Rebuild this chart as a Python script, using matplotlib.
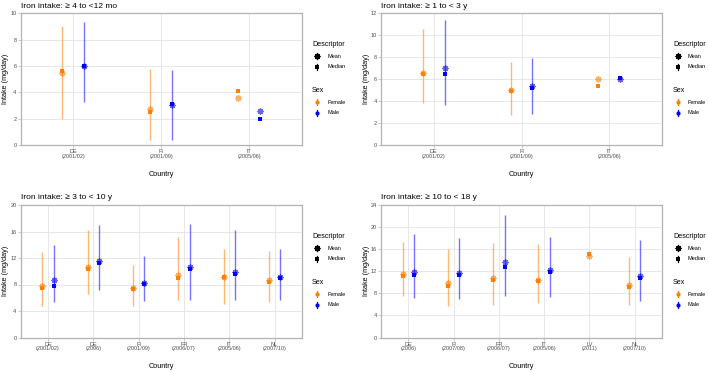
import numpy as np
import matplotlib
matplotlib.use("Agg")
import matplotlib.pyplot as plt
from matplotlib.lines import Line2D

plt.rcParams['font.family'] = ['Liberation Sans', 'DejaVu Sans']

nan = np.nan

# ---------------- data ----------------
titles = ["Iron intake: \u2265 4 to <12 mo", "Iron intake: \u2265 1 to < 3 y",
          "Iron intake: \u2265 3 to < 10 y", "Iron intake: \u2265 10 to < 18 y"]

cats1 = ["DE\n(2001/02)", "FI\n(2001/09)", "IT\n(2005/06)"]
f_mean1 = [5.45, 2.75, 3.55]
f_med1 = [5.65, 2.5, 4.1]
f_lo1 = [2.0, 0.4, nan]
f_hi1 = [9.0, 5.75, nan]
m_mean1 = [6.0, 3.0, 2.6]
m_med1 = [6.0, 3.15, 1.95]
m_lo1 = [3.25, 0.4, nan]
m_hi1 = [9.35, 5.7, nan]

cats2 = ["DE\n(2001/02)", "FI\n(2001/09)", "IT\n(2005/06)"]
f_mean2 = [6.6, 5.0, 6.0]
f_med2 = [6.45, 4.95, 5.35]
f_lo2 = [3.8, 2.7, nan]
f_hi2 = [10.6, 7.6, nan]
m_mean2 = [7.0, 5.4, 6.05]
m_med2 = [6.5, 5.2, 6.1]
m_lo2 = [3.6, 2.8, nan]
m_hi2 = [11.4, 7.95, nan]

cats3 = ["DE\n(2001/02)", "DE\n(2006)", "FI\n(2001/09)", "FR\n(2006/07)", "IT\n(2005/06)", "NL\n(2007/10)"]
f_mean3 = [7.7, 10.6, 7.5, 9.5, 9.1, 8.7]
f_med3 = [7.5, 10.4, 7.3, 9.0, 9.1, 8.4]
f_lo3 = [4.7, 6.5, 4.7, 5.7, 5.1, 5.4]
f_hi3 = [12.9, 16.2, 11.0, 15.1, 13.4, 13.1]
m_mean3 = [8.7, 11.5, 8.3, 10.6, 9.9, 9.2]
m_med3 = [7.7, 11.2, 8.1, 10.3, 9.6, 9.0]
m_lo3 = [5.3, 7.2, 5.5, 5.7, 5.6, 5.6]
m_hi3 = [14.0, 17.0, 12.3, 17.2, 16.2, 13.3]

cats4 = ["DE\n(2006)", "FI\n(2007/08)", "FR\n(2006/07)", "IT\n(2005/06)", "LV\n(2011)", "NL\n(2007/10)"]
f_mean4 = [11.5, 9.8, 10.8, 10.5, 14.7, 9.6]
f_med4 = [11.2, 9.4, 10.4, 10.3, 15.2, 9.2]
f_lo4 = [7.5, 5.7, 5.9, 6.2, nan, 5.9]
f_hi4 = [17.3, 16.0, 17.2, 16.9, nan, 14.6]
m_mean4 = [11.8, 11.6, 13.6, 12.3, nan, 11.1]
m_med4 = [11.3, 11.4, 12.8, 11.8, nan, 10.8]
m_lo4 = [7.2, 6.9, 7.5, 7.4, nan, 6.6]
m_hi4 = [18.7, 18.1, 22.1, 18.2, nan, 17.6]

y_max = [10, 12, 20, 24]
y_step = [2, 2, 4, 4]

ORANGE = "#FF7F00"
BLUE = "#0000FF"

W, H = 709, 370
fig = plt.figure(figsize=(W / 100, H / 100), dpi=100)


def px_axes(x0, y0, x1, y1):
    return fig.add_axes([x0 / W, 1 - y1 / H, (x1 - x0) / W, (y1 - y0) / H])


panel_data = [
    (cats1, (f_mean1, f_med1, f_lo1, f_hi1), (m_mean1, m_med1, m_lo1, m_hi1)),
    (cats2, (f_mean2, f_med2, f_lo2, f_hi2), (m_mean2, m_med2, m_lo2, m_hi2)),
    (cats3, (f_mean3, f_med3, f_lo3, f_hi3), (m_mean3, m_med3, m_lo3, m_hi3)),
    (cats4, (f_mean4, f_med4, f_lo4, f_hi4), (m_mean4, m_med4, m_lo4, m_hi4)),
]
boxes = [(20.7, 13.3, 301.7, 145), (381, 13.3, 662, 145),
         (20.7, 205, 301.7, 337.5), (381, 205, 662, 337.5)]
legend_x = [(312, 317, 327), (673, 678, 688), (312, 317, 327), (673, 678, 688)]
legend_y0 = [44, 44, 236, 236]

ASTER = (8, 2, 0)

for i, (cats, fem, mal) in enumerate(panel_data):
    ax = px_axes(*boxes[i])
    n = len(cats)
    x = np.arange(n)
    fm = np.array(fem[0], dtype=float)
    mm = np.array(mal[0], dtype=float)
    for vals, other, color, sign in [(fem, mm, ORANGE, -1), (mal, fm, BLUE, 1)]:
        mean, med, lo, hi = [np.array(v, dtype=float) for v in vals]
        offs = np.where(np.isnan(other), 0.0, sign * 0.125)
        xs = x + offs
        ok = ~np.isnan(lo)
        ax.vlines(xs[ok], lo[ok], hi[ok], color=color, alpha=0.55, lw=1.0, zorder=2)
        ax.plot(xs, med, ls='', marker='s', ms=2.8, color=color, mew=0, zorder=3)
        ax.plot(xs, mean, ls='', marker=ASTER, ms=4.4, mew=0.9, color=color,
                alpha=0.6, zorder=4)

    ax.set_xlim(-0.6, n - 0.4)
    ax.set_ylim(0, y_max[i])
    ax.set_yticks(np.arange(0, y_max[i] + 0.1, y_step[i]))
    ax.set_xticks(x)
    ax.set_xticklabels(cats, linespacing=0.95)
    ax.grid(True, color="#E3E3E3", lw=0.6, zorder=0)
    ax.set_axisbelow(True)
    for s in ax.spines.values():
        s.set_color("#B3B3B3")
        s.set_linewidth(0.9)
    ax.tick_params(axis='both', length=2, width=0.5, color="#B3B3B3",
                   labelsize=4, labelcolor="#4D4D4D", pad=1)
    ax.set_xlabel("Country", fontsize=5.2)
    ax.xaxis.set_label_coords(0.5, -0.196)
    ax.set_ylabel("Intake (mg/day)", fontsize=5.2)
    ax.yaxis.set_label_coords(-0.040, 0.5)
    ax.text(0.0, 1.055, titles[i], transform=ax.transAxes, ha='left', va='center',
            fontsize=6.0)

    # legend (drawn manually at ggplot positions)
    tx, kx, lx = legend_x[i]
    y0 = legend_y0[i]

    def fx(v):
        return v / W

    def fy(v):
        return 1 - v / H

    fig.text(fx(tx), fy(y0), "Descriptor", fontsize=5.1, va='center', ha='left')
    fig.text(fx(tx), fy(y0 + 46), "Sex", fontsize=5.1, va='center', ha='left')
    entries = [(y0 + 12, 'black', ASTER, "Mean"), (y0 + 23, 'black', 's', "Median"),
               (y0 + 58, ORANGE, 'o', "Female"), (y0 + 69, BLUE, 'o', "Male")]
    for yy, col, mk, lab in entries:
        fig.add_artist(Line2D([fx(kx), fx(kx)], [fy(yy - 3.2), fy(yy + 3.2)],
                              transform=fig.transFigure, color=col, lw=0.9))
        if mk == ASTER:
            fig.add_artist(Line2D([fx(kx)], [fy(yy)], transform=fig.transFigure,
                                  marker=mk, ms=4.2, mew=0.9, color=col, ls=''))
        else:
            fig.add_artist(Line2D([fx(kx)], [fy(yy)], transform=fig.transFigure,
                                  marker=mk, ms=3.0, mew=0, color=col, ls=''))
        fig.text(fx(lx), fy(yy), lab, fontsize=4, va='center', ha='left')

fig.savefig("out.png", dpi=100)
